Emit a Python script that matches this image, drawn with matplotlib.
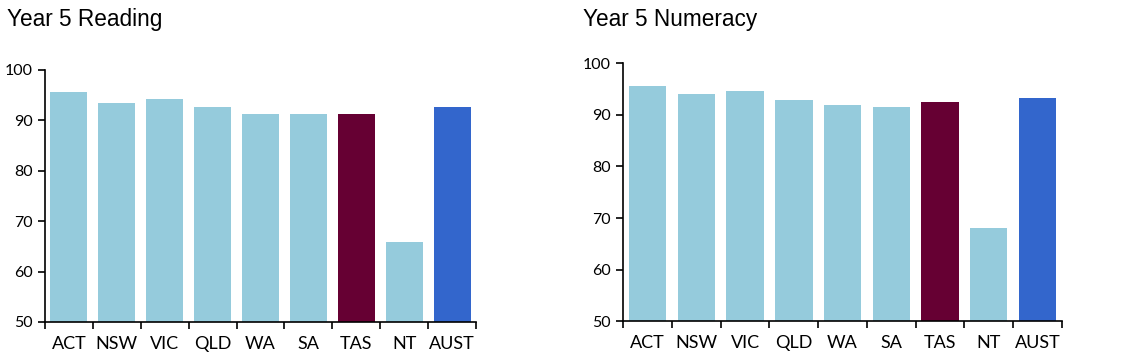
import matplotlib.pyplot as plt

# Categories and values
states = ['ACT', 'NSW', 'VIC', 'QLD', 'WA', 'SA', 'TAS', 'NT', 'AUST']
reading = [95.7, 93.4, 94.2, 92.7, 91.3, 91.3, 91.3, 65.9, 92.7]
numeracy = [95.7, 94.0, 94.6, 92.9, 92.0, 91.6, 92.5, 68.0, 93.3]

light = '#95cbdc'
colors = [light] * 9
colors[6] = '#660033'
colors[8] = '#3366cc'

fig = plt.figure(figsize=(11.24, 3.6), dpi=100)
ax1 = fig.add_axes([0.040, 0.1056, 0.3835, 0.700])
ax2 = fig.add_axes([0.5546, 0.108, 0.390, 0.716])

tick_font = 'Lato'


def draw(ax, vals, title, title_x):
    x = range(len(states))
    ax.bar(x, vals, width=0.77, color=colors, linewidth=0)
    ax.set_ylim(50, 100)
    ax.set_xlim(-0.5, len(states) - 0.5)
    ax.set_yticks([50, 60, 70, 80, 90, 100])
    ax.set_xticks(list(x))
    ax.set_xticklabels(states, fontsize=13, family=tick_font)
    ax.set_xticks([i - 0.5 for i in range(len(states) + 1)], minor=True)
    ax.tick_params(axis='x', which='major', length=0, pad=10)
    ax.tick_params(axis='x', which='minor', length=5, width=1.2, direction='out')
    ax.tick_params(axis='y', length=5, width=1.2, direction='out', labelsize=11.5, pad=4)
    for lab in ax.get_yticklabels():
        lab.set_family(tick_font)
    for s in ['top', 'right']:
        ax.spines[s].set_visible(False)
    for s in ['left', 'bottom']:
        ax.spines[s].set_linewidth(1.2)
    fig.text(title_x, 0.945, title, fontsize=16.3, family='Liberation Sans', va='center', ha='left')


draw(ax1, reading, 'Year 5 Reading', 0.006)
draw(ax2, numeracy, 'Year 5 Numeracy', 0.519)

fig.savefig('out.png', dpi=100)
